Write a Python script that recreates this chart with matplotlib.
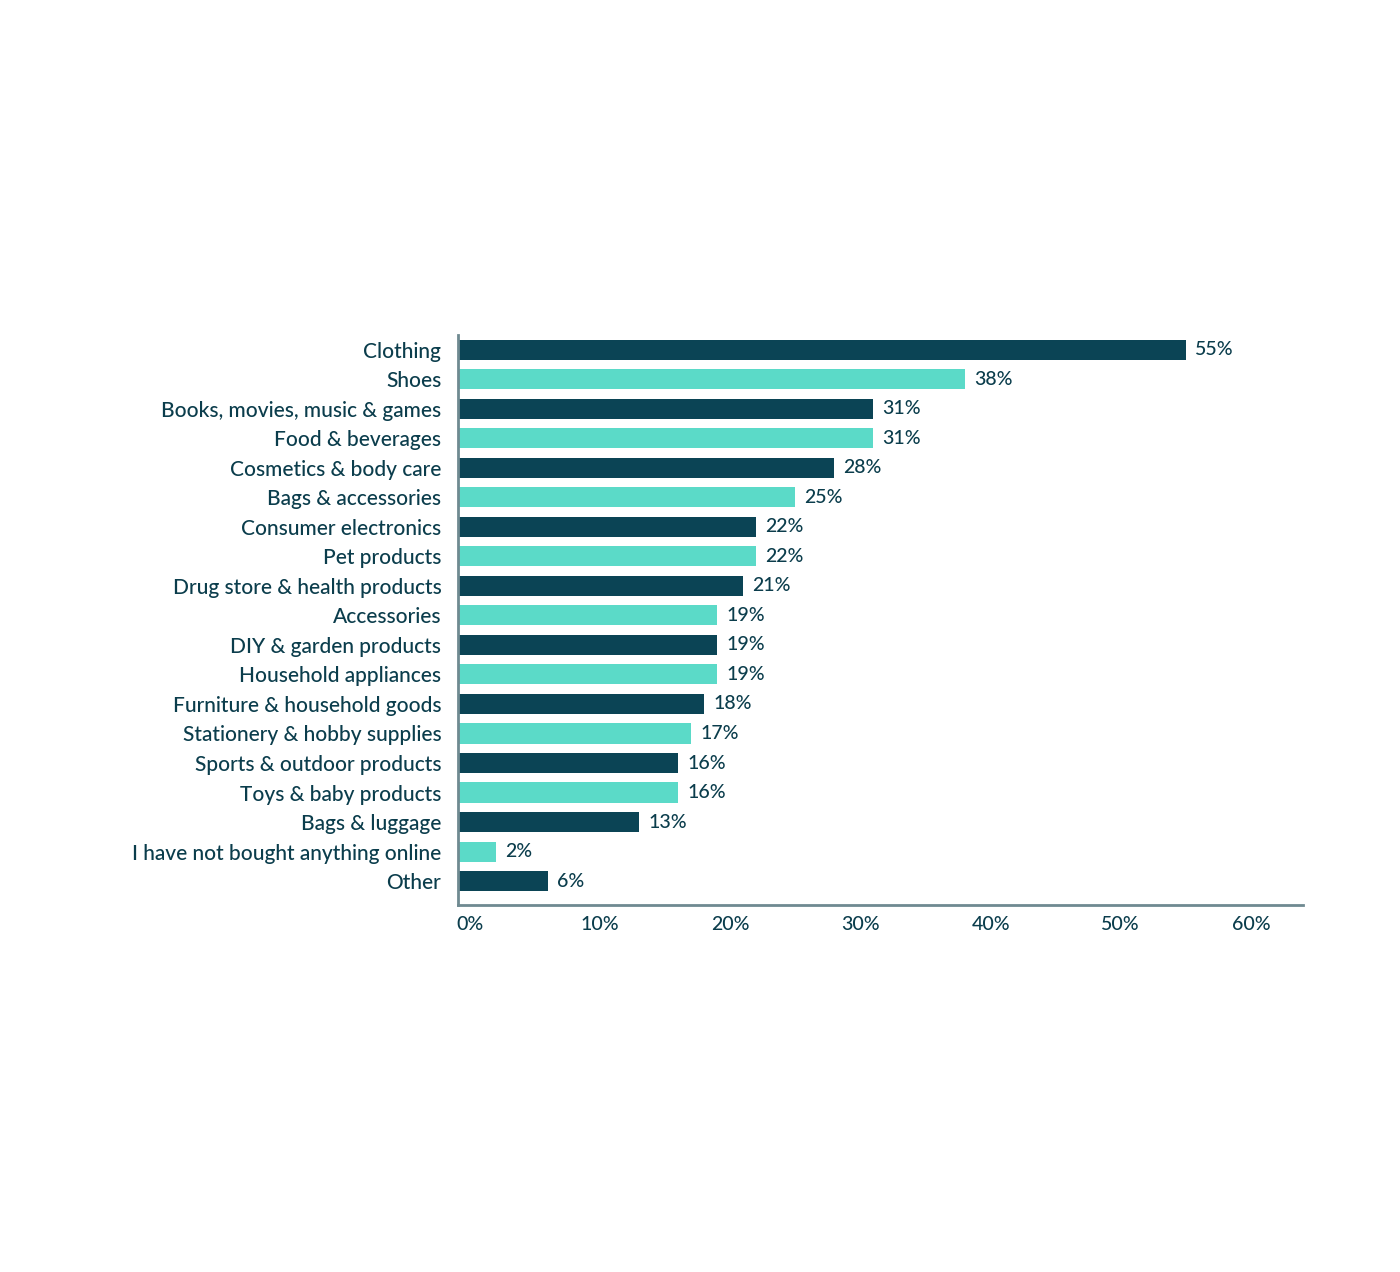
import matplotlib
matplotlib.use("Agg")
import matplotlib.pyplot as plt

categories = ["Clothing","Shoes","Books, movies, music & games","Food & beverages",
 "Cosmetics & body care","Bags & accessories","Consumer electronics","Pet products",
 "Drug store & health products","Accessories","DIY & garden products","Household appliances",
 "Furniture & household goods","Stationery & hobby supplies","Sports & outdoor products",
 "Toys & baby products","Bags & luggage","I have not bought anything online","Other"]
values = [55,38,31,31,28,25,22,22,21,19,19,19,18,17,16,16,13,2,6]
xticks = [0,10,20,30,40,50,60]

dark = "#0b4455"; light = "#5bdac8"; txt = "#0b3d4c"
plt.rcParams["font.family"] = "Lato"
fig = plt.figure(figsize=(14,12.72), dpi=100)
ax = fig.add_axes([458/1400, 1-905/1272, (1303-458)/1400, (905-335)/1272])
xmin, xmax = -0.92, 64.0
n = len(values)
for i, v in enumerate(values):
    c = dark if i % 2 == 0 else light
    ax.barh(i, v - xmin, left=xmin, height=0.68, color=c)
    ax.text(v + 0.7, i, f"{v}%", va="center", ha="left", fontsize=14, color=txt, fontweight="medium")
ax.set_xlim(xmin, xmax)
ax.set_ylim(n - 1 + 0.81, -0.5)
ax.set_yticks(range(n)); ax.set_yticklabels(categories, fontsize=15, color=txt, fontweight="medium")
ax.set_xticks(xticks); ax.set_xticklabels([f"{t}%" for t in xticks], fontsize=14, color=txt, fontweight="medium")
ax.tick_params(length=0, pad=12)
ax.tick_params(axis="x", pad=8)
for s in ["top","right"]:
    ax.spines[s].set_visible(False)
for s in ["left","bottom"]:
    ax.spines[s].set_color("#6f8a91"); ax.spines[s].set_linewidth(2)
fig.savefig("out.png", dpi=100, facecolor="white")
